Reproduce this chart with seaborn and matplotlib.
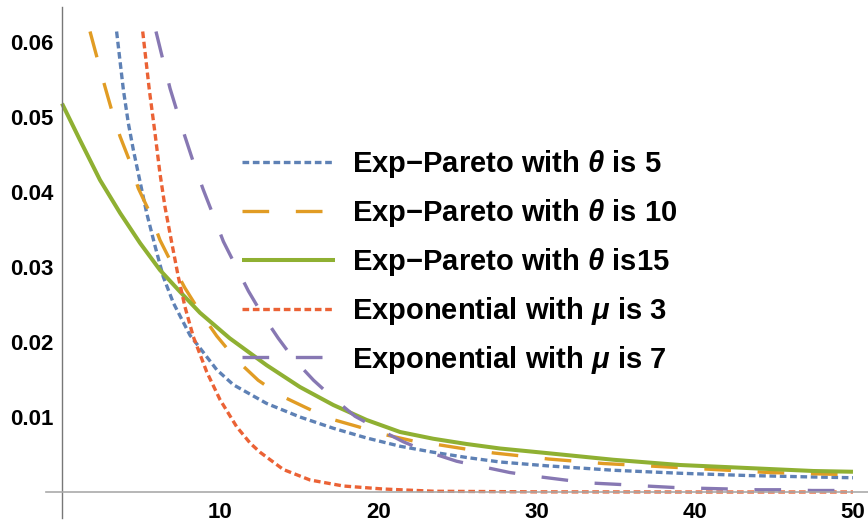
import numpy as np
import pandas as pd
import matplotlib
matplotlib.use("Agg")
import matplotlib.pyplot as plt
from matplotlib.ticker import FixedLocator, NullFormatter, FixedFormatter
import seaborn as sns

# ---- data ----
green_x = [0, 1.14, 2.40, 3.67, 4.93, 6.19, 7.46, 8.72, 10.6, 12.94, 15.04, 17.15, 19.26, 21.37,
           23.47, 25.58, 27.69, 30.6, 34.85, 39.06, 43.3, 47.5, 50]
green_y = [.0518, .0469, .0416, .0372, .0332, .0296, .0267, .0239, .0205, .0169, .0140, .0116,
           .0096, .0080, .0071, .0064, .0058, .0052, .0043, .0036, .0032, .0028, .0027]

blue_x = [3.45, 3.88, 4.19, 4.51, 4.93, 5.35, 5.88, 6.40, 7.04, 8.09, 8.72, 9.78, 10.83, 12.94,
          15.04, 17.15, 19.26, 21.37, 23.47, 25.58, 27.69, 30.6, 34.85, 39.06, 43.3, 47.5, 50]
blue_y = [.0614, .0536, .0492, .0456, .0414, .0372, .0328, .0287, .0252, .0209, .0192, .0163,
          .0143, .0118, .0100, .0085, .0072, .0061, .0053, .0046, .0040, .0035, .0029, .0025,
          .0022, .0020, .0019]

orange_x = [1.77, 2.19, 2.72, 3.14, 3.67, 4.30, 4.82, 5.56, 6.19, 6.93, 7.77, 8.72, 9.78, 11.04,
            12.4, 13.78, 15.47, 16.9, 18.73, 20.3, 22.2, 23.8, 25.6, 27.3, 29.06, 30.74, 32.5,
            34.2, 36.0, 37.7, 39.5, 41.2, 42.96, 44.65, 46.4, 48.1, 50]
orange_y = [.0614, .0581, .0540, .0509, .0474, .0440, .0405, .0372, .0336, .0305, .0272, .0240,
            .0208, .0176, .0149, .0129, .0112, .0098, .0087, .0077, .0068, .0063, .0057, .0052,
            .0048, .0044, .0041, .0038, .0036, .0034, .0032, .0030, .0028, .0026, .0025, .0024,
            .0023]

red_x = [5.1, 5.52, 5.88, 6.19, 6.51, 6.93, 7.35, 7.77, 8.30, 9.15, 9.99, 11.04, 11.9, 12.52,
         13.99, 15.68, 17.78, 20.3, 23.5, 30.0, 40.0, 50.0]
red_y = [.0614, .0536, .0478, .0425, .0380, .0333, .0287, .0247, .0207, .0160, .0123, .0087,
         .0065, .0053, .0030, .0016, .0008, .0004, .0001, .00002, .0, .0]

purple_x = [5.94, 6.3, 6.83, 7.25, 7.77, 8.30, 8.93, 9.56, 10.2, 10.94, 11.78, 12.62, 13.67,
            14.62, 15.9, 17.15, 18.52, 19.9, 21.57, 23.05, 24.95, 26.5, 28.3, 29.9, 31.8, 33.4,
            35.3, 36.9, 38.7, 40.3, 42.2, 43.9, 45.7, 47.4, 50.0]
purple_y = [.0614, .0583, .0538, .0509, .0474, .0440, .0403, .0369, .0334, .0303, .0268, .0238,
            .0205, .0178, .0149, .0125, .0101, .0085, .0067, .0054, .0041, .0034, .0026, .0021,
            .0016, .0012, .0010, .0008, .0006, .0005, .0004, .0003, .0003, .0002, .0002]

labels = ["Exp\u2212Pareto with $\\theta$ is 5",
          "Exp\u2212Pareto with $\\theta$ is 10",
          "Exp\u2212Pareto with $\\theta$ is15",
          "Exponential with $\\mu$ is 3",
          "Exponential with $\\mu$ is 7"]

x_major = [10, 20, 30, 40, 50]
x_major_labels = ["10", "20", "30", "40", "50"]
y_major = [0.01, 0.02, 0.03, 0.04, 0.05, 0.06]
y_major_labels = ["0.01", "0.02", "0.03", "0.04", "0.05", "0.06"]

# ---- style ----
sns.set_theme(style="white")
plt.rcParams['font.family'] = ['Liberation Sans', 'DejaVu Sans']
plt.rcParams['font.weight'] = 'bold'
plt.rcParams['text.color'] = 'black'
plt.rcParams['mathtext.fontset'] = 'custom'
plt.rcParams['mathtext.it'] = 'Liberation Sans:italic:bold'
plt.rcParams['mathtext.rm'] = 'Liberation Sans:bold'

colors = ["#5E81B5", "#E19C24", "#8FB032", "#EB6235", "#8778B3"]

fig = plt.figure(figsize=(8.68, 5.25), dpi=100)
ax = fig.add_axes([46.2 / 868, 7.5 / 525, (868.8 - 46.2) / 868, (517.5 - 7.5) / 525])

series = [(blue_x, blue_y), (orange_x, orange_y), (green_x, green_y), (red_x, red_y),
          (purple_x, purple_y)]
frames = []
for lab, (xs, ys) in zip(labels, series):
    frames.append(pd.DataFrame({"x": xs, "y": ys, "series": lab}))
df = pd.concat(frames, ignore_index=True)

lws = [2.4, 2.4, 2.9, 2.4, 2.4]
for i, lab in enumerate(labels):
    sub = df[df["series"] == lab]
    sns.lineplot(data=sub, x="x", y="y", ax=ax, color=colors[i], linewidth=lws[i],
                 label=lab, sort=False, estimator=None)

dash_styles = [(2.0, 1.1), (8.0, 8.0), None, (2.0, 1.1), (8.0, 8.0)]
for line, ds in zip(ax.lines, dash_styles):
    if ds is not None:
        line.set_dashes(ds)
    line.set_solid_capstyle('butt')
    line.set_dash_capstyle('butt')
    line.set_solid_joinstyle('round')

ax.set_xlim(-1.0, 51.0)
ax.set_ylim(-0.0034, 0.0646)

for s in ['top', 'right']:
    ax.spines[s].set_visible(False)
ax.spines['left'].set_position(('data', 0))
ax.spines['bottom'].set_position(('data', 0))
ax.spines['left'].set_color('#777777')
ax.spines['bottom'].set_color('#aaaaaa')
ax.spines['left'].set_linewidth(1.0)
ax.spines['bottom'].set_linewidth(1.2)

ax.xaxis.set_major_locator(FixedLocator(x_major))
ax.xaxis.set_major_formatter(FixedFormatter(x_major_labels))
ax.xaxis.set_minor_locator(FixedLocator([v for v in np.arange(2, 51, 2) if v % 10 != 0]))
ax.yaxis.set_major_locator(FixedLocator(y_major))
ax.yaxis.set_major_formatter(FixedFormatter(y_major_labels))
ax.yaxis.set_minor_locator(FixedLocator([round(v, 3) for v in np.arange(-0.002, 0.0641, 0.002)
                                         if abs(round(v * 1000) % 10) != 0]))
ax.xaxis.set_minor_formatter(NullFormatter())
ax.yaxis.set_minor_formatter(NullFormatter())
ax.tick_params(axis='both', which='major', direction='in', length=5, width=1.0,
               color='#888888', labelsize=16, labelcolor='black')
ax.tick_params(axis='both', which='minor', direction='in', length=3, width=0.8, color='#aaaaaa')
ax.tick_params(axis='x', which='major', pad=7)
ax.tick_params(axis='y', which='major', pad=6)
for t in ax.get_xticklabels() + ax.get_yticklabels():
    t.set_fontweight('bold')
    t.set_color('black')
ax.set_xlabel("")
ax.set_ylabel("")

leg = ax.legend(loc='upper left', bbox_to_anchor=(242 / 868, 1 - 148 / 525),
                bbox_transform=fig.transFigure, frameon=False, fontsize=21,
                handlelength=3.2, handletextpad=0.58, labelspacing=0.58, borderpad=0,
                borderaxespad=0)
for t in leg.get_texts():
    t.set_fontweight('bold')
    t.set_color('black')
for h, ds in zip(leg.get_lines(), dash_styles):
    if ds is not None:
        h.set_dashes(ds)

fig.savefig("out.png", dpi=100)
